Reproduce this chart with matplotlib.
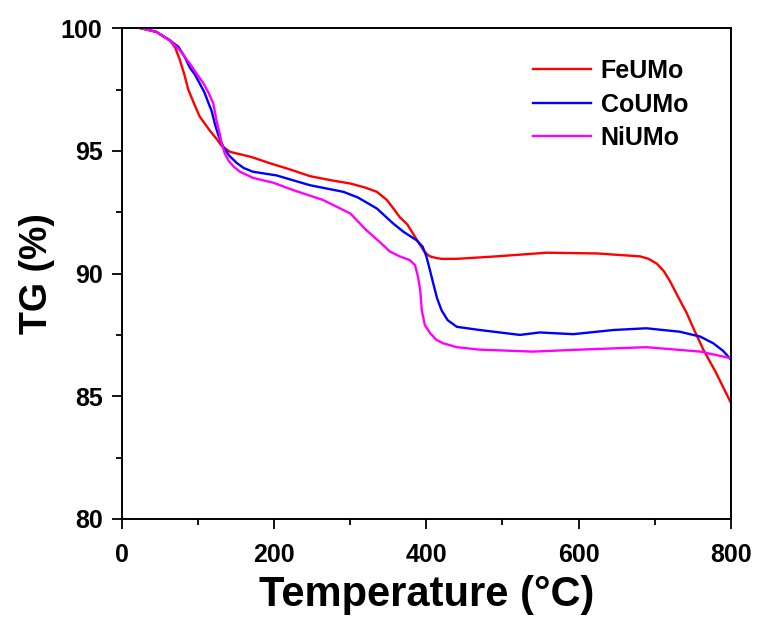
import matplotlib
matplotlib.use("Agg")
import matplotlib.pyplot as plt
from matplotlib.ticker import MultipleLocator

# values (temperature in C, mass in %)
fe_t = [24, 45, 63, 70, 76, 82, 87, 95, 102, 109, 116, 124, 131, 142, 170, 194,
        220, 247, 275, 300, 320, 335, 348, 358, 365, 375, 383, 390, 396, 401,
        405, 412, 420, 440, 492, 558, 624, 681, 692, 703, 712, 720, 730, 742,
        752, 764, 780, 800]
fe_tg = [100, 99.85, 99.5, 99.2, 98.7, 98.1, 97.5, 96.9, 96.4, 96.1, 95.8, 95.5,
         95.2, 94.96, 94.75, 94.5, 94.25, 93.97, 93.8, 93.67, 93.5, 93.33, 93.0,
         92.6, 92.3, 92.0, 91.6, 91.25, 90.96, 90.78, 90.7, 90.64, 90.6, 90.6,
         90.7, 90.85, 90.82, 90.7, 90.6, 90.4, 90.1, 89.7, 89.1, 88.4, 87.7,
         86.9, 86.0, 84.75]

co_t = [26, 45, 63, 74, 82, 89, 96, 102, 108, 113, 118, 122, 127, 133, 141, 151,
        160, 172, 203, 247, 291, 310, 335, 356, 370, 387, 395, 400, 405, 409,
        414, 420, 428, 440, 470, 523, 549, 593, 646, 689, 733, 760, 777, 790, 800]
co_tg = [100, 99.85, 99.5, 99.24, 98.85, 98.4, 98.1, 97.75, 97.4, 97.0, 96.6,
         96.1, 95.6, 95.17, 94.8, 94.5, 94.3, 94.15, 94.0, 93.6, 93.33, 93.1,
         92.65, 92.05, 91.7, 91.36, 91.1, 90.7, 90.1, 89.6, 89.0, 88.5, 88.1,
         87.83, 87.7, 87.5, 87.6, 87.53, 87.7, 87.77, 87.63, 87.43, 87.16, 86.85,
         86.5]

ni_t = [24, 45, 63, 76, 89, 98, 107, 114, 120, 124, 128, 131, 135, 140, 147,
        155, 172, 199, 225, 264, 300, 321, 340, 352, 365, 378, 385, 389, 392,
        394, 398, 405, 413, 422, 440, 470, 540, 602, 689, 760, 800]
ni_tg = [100, 99.85, 99.5, 99.1, 98.56, 98.15, 97.75, 97.35, 96.93, 96.25,
         95.75, 95.3, 94.9, 94.6, 94.35, 94.15, 93.9, 93.7, 93.4, 93.0, 92.45,
         91.77, 91.25, 90.9, 90.7, 90.55, 90.35, 89.87, 89.3, 88.5, 87.9, 87.57,
         87.3, 87.16, 87.0, 86.9, 86.82, 86.9, 87.0, 86.82, 86.55]

fig = plt.figure(figsize=(7.58, 6.26), dpi=100)
ax = fig.add_axes([0.161, 0.171, 0.803, 0.784])

ax.plot(fe_t, fe_tg, color="#ff0000", lw=1.7, label="FeUMo")
ax.plot(co_t, co_tg, color="#0000ff", lw=1.7, label="CoUMo")
ax.plot(ni_t, ni_tg, color="#ff00ff", lw=1.7, label="NiUMo")

ax.set_xlim(0, 800)
ax.set_ylim(80, 100)
ax.xaxis.set_major_locator(MultipleLocator(200))
ax.xaxis.set_minor_locator(MultipleLocator(100))
ax.yaxis.set_major_locator(MultipleLocator(5))
ax.yaxis.set_minor_locator(MultipleLocator(2.5))
ax.tick_params(which="major", direction="out", length=7, width=1.3, pad=7)
ax.tick_params(axis="x", which="major", pad=10)
ax.tick_params(which="minor", direction="out", length=4, width=1.3)
for s in ax.spines.values():
    s.set_linewidth(1.4)

for lab in ax.get_xticklabels() + ax.get_yticklabels():
    lab.set_family(["Liberation Sans", "DejaVu Sans"])
    lab.set_fontweight("bold")
    lab.set_fontsize(18)

ax.set_xlabel("Temperature (°C)", fontsize=30, fontweight="bold",
              family=["Liberation Sans", "DejaVu Sans"], labelpad=6)
ax.set_ylabel("TG (%)", fontsize=27, fontweight="bold",
              family=["Liberation Sans", "DejaVu Sans"], labelpad=4)

leg = ax.legend(loc="upper left", bbox_to_anchor=(533 / 758, 1 - 59 / 626),
                bbox_transform=fig.transFigure, frameon=False,
                prop={"family": "Liberation Sans", "weight": "bold", "size": 18},
                handlelength=2.3, handletextpad=0.4, labelspacing=0.38,
                borderpad=0, borderaxespad=0)

fig.savefig("out.png", dpi=100)
